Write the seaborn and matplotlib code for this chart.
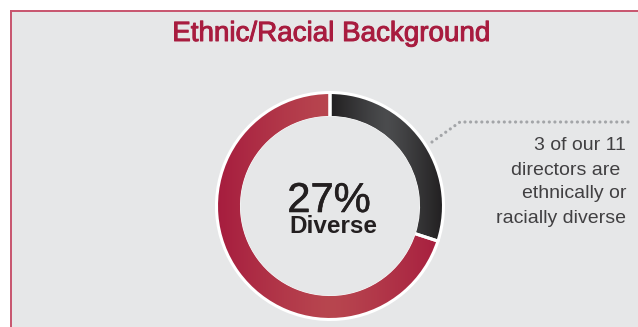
import matplotlib
matplotlib.use("Agg")
import matplotlib.pyplot as plt
import matplotlib.patheffects as pe
import seaborn as sns
import numpy as np
from matplotlib.patches import Rectangle, Circle
from matplotlib.colors import to_rgb

# ---- data ----
title = "Ethnic/Racial Background"
segments = ["Ethnically or racially diverse", "Other directors"]
shares = [30, 70]          # arc shares as drawn in the picture
center_value = "27%"
center_label = "Diverse"
note_lines = ["3 of our 11", "directors are ", "ethnically or", "racially diverse"]

# ---- style ----
sns.set_theme(style="white")
plt.rcParams["font.family"] = ["Liberation Sans", "DejaVu Sans"]

W, H = 638, 327
fig = plt.figure(figsize=(W / 100, H / 100), dpi=100, facecolor="white")
ax = fig.add_axes([0, 0, 1, 1])


def Y(py):
    return H - py


panel_col = "#e6e7e8"
ax.add_patch(Rectangle((10, 0), W - 10, Y(11), facecolor=panel_col, edgecolor="none", zorder=0))
ax.plot([10.8, 10.8], [0, Y(10.2)], color="#c8546e", lw=1.4, zorder=1, solid_capstyle="butt")
ax.plot([10, W], [Y(11), Y(11)], color="#c8546e", lw=1.4, zorder=1, solid_capstyle="butt")

cx, cy = 330, Y(206)
R = 113.5
wedges, _ = ax.pie(shares, startangle=90, counterclock=False, radius=R, center=(cx, cy),
                   colors=["#333333", "#ad2a44"],
                   wedgeprops=dict(width=25, edgecolor="white", linewidth=2.2),
                   frame=True)

grads = [
    (cx - 2, cx + R + 2, "#4b4c4e", "#1f1d1e"),
    (cx - R - 2, cx + R + 2, "#b8464f", "#a61c3e"),
]
for w, (x0, x1, c_mid, c_edge) in zip(wedges, grads):
    n = 300
    xs = np.linspace(0, 1, n)
    t = np.abs(xs - 0.5) * 2
    t = t ** 1.2
    cm, ce = np.array(to_rgb(c_mid)), np.array(to_rgb(c_edge))
    img = (cm[None, :] * (1 - t[:, None]) + ce[None, :] * t[:, None])[None, :, :]
    im = ax.imshow(img, extent=(x0, x1, cy - R - 2, cy + R + 2), aspect="auto",
                   interpolation="bilinear", zorder=1.5)
    im.set_clip_path(w)
    w.set_facecolor("none")
    w.set_zorder(2)

ax.add_patch(Circle((cx, cy), 89.6, facecolor=panel_col, edgecolor="none", zorder=3))

# dotted leader
ax.plot([432, 460, 630], [Y(142), Y(122), Y(122)], color="#a3a5a8", lw=2.3,
        ls=(0, (0.01, 1.75)), dash_capstyle="round", zorder=4)

# texts
title_col = "#a81c3f"
ax.text(331, Y(41), title, ha="center", va="baseline", fontsize=20, color=title_col, zorder=5,
        path_effects=[pe.withStroke(linewidth=0.7, foreground=title_col)])
ax.text(329, Y(212), center_value, ha="center", va="baseline", fontsize=30, color="#231f20", zorder=5,
        path_effects=[pe.withStroke(linewidth=0.4, foreground="#231f20")])
ax.text(333, Y(233), center_label, ha="center", va="baseline", fontsize=17.5, fontweight="bold",
        color="#231f20", zorder=5)
baselines = [150, 175, 198, 223]
for line, b in zip(note_lines, baselines):
    ax.text(626, Y(b), line, ha="right", va="baseline", fontsize=14, color="#414042", zorder=5)

ax.set_xlim(0, W)
ax.set_ylim(0, H)
ax.set_aspect("auto")
ax.axis("off")
fig.savefig("out.png", dpi=100, facecolor="white")
